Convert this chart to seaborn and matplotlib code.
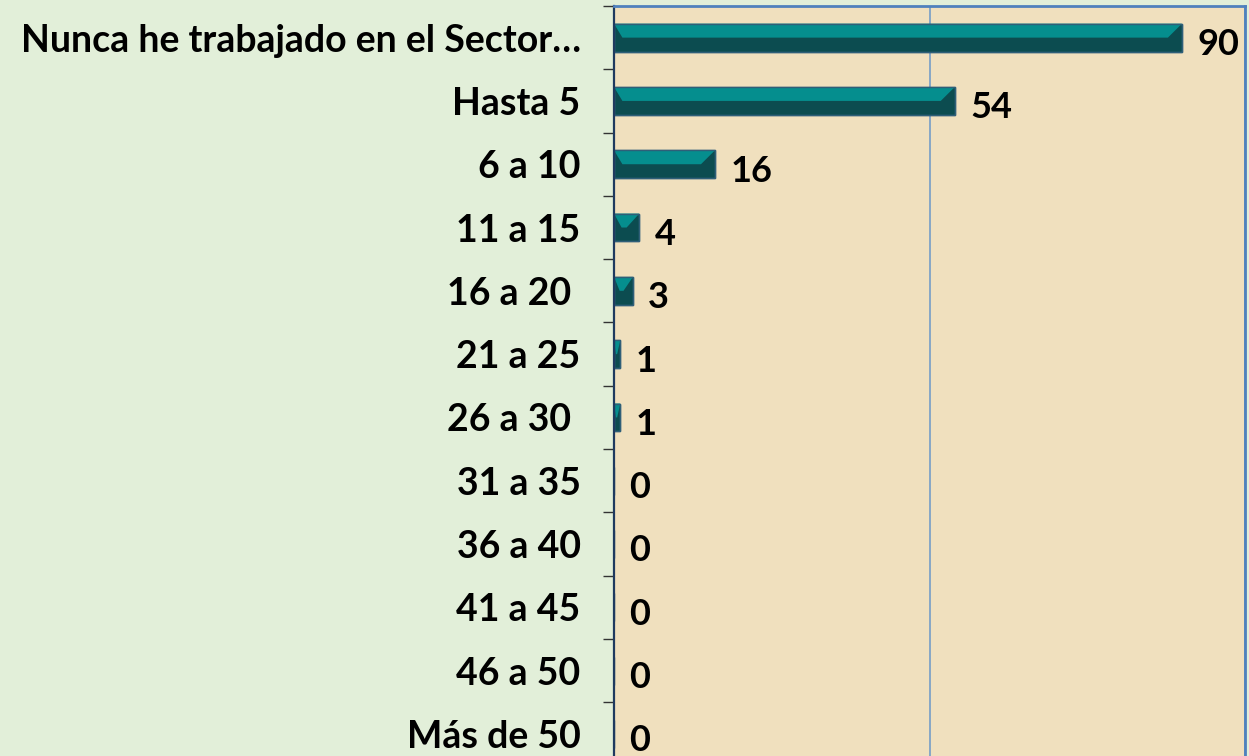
"""Horizontal bar chart: years worked in the sector."""

import matplotlib

matplotlib.use("Agg")
import matplotlib.pyplot as plt
import numpy as np
import pandas as pd
import seaborn as sns
from matplotlib.patches import Polygon

CATEGORIES = [
    "Nunca he trabajado en el Sector…",
    "Hasta 5",
    "6 a 10",
    "11 a 15",
    "16 a 20 ",
    "21 a 25",
    "26 a 30 ",
    "31 a 35",
    "36 a 40",
    "41 a 45",
    "46 a 50",
    "Más de 50",
]
COUNTS = [90, 54, 16, 4, 3, 1, 1, 0, 0, 0, 0, 0]
X_MAX = 100
GRID_TICKS = [0, 50, 100]

FIG_BG = "#E2EFD9"
PLOT_BG = "#F0E0BE"
TEAL_LIGHT = "#058E8E"
TEAL_DARK = "#0C4C50"
EDGE = "#2F5F78"
FRAME_BLUE = "#4F81BD"
GRID_BLUE = "#7FA3C6"
AXIS_NAVY = "#1F3A5F"

sns.set_theme(style="white")
plt.rcParams["font.family"] = ["Lato", "DejaVu Sans"]

frame = pd.DataFrame({"category": CATEGORIES, "count": COUNTS})

fig = plt.figure(figsize=(12.49, 7.56), dpi=100, facecolor=FIG_BG)
axis = fig.add_axes([0.4916, -0.0127, 0.5052, 1.0048])
axis.set_facecolor(PLOT_BG)

sns.barplot(
    data=frame,
    x="count",
    y="category",
    orient="h",
    color=TEAL_DARK,
    saturation=1,
    width=0.44,
    edgecolor=EDGE,
    linewidth=1.0,
    ax=axis,
)
axis.set_xlim(0, X_MAX)
axis.set_xlabel("")
axis.set_ylabel("")

# bevelled look: lighter upper face with slanted ends
fig.canvas.draw()
px_per_unit = axis.get_window_extent().width / X_MAX
bars = list(axis.patches)
for patch in bars:
    x0 = patch.get_x()
    w = patch.get_width()
    y0 = patch.get_y()
    h = patch.get_height()
    if w <= 0:
        continue
    depth = min(14 / px_per_unit, w / 2)
    axis.add_patch(
        Polygon(
            [
                (x0, y0),
                (x0 + w, y0),
                (x0 + w - depth, y0 + h / 2),
                (x0 + min(depth * 0.6, w / 2), y0 + h / 2),
            ],
            closed=True,
            facecolor=TEAL_LIGHT,
            edgecolor="none",
            zorder=patch.get_zorder() + 0.1,
        )
    )
    axis.add_patch(
        Polygon(
            [(x0, y0), (x0 + w, y0), (x0 + w, y0 + h), (x0, y0 + h)],
            closed=True,
            facecolor="none",
            edgecolor=EDGE,
            linewidth=1.0,
            zorder=patch.get_zorder() + 0.2,
        )
    )

for patch, value in zip(bars, COUNTS):
    axis.annotate(
        f"{value}",
        xy=(patch.get_x() + patch.get_width(), patch.get_y() + patch.get_height() / 2),
        xytext=(11, -5),
        textcoords="offset points",
        ha="left",
        va="center",
        fontsize=26,
        fontweight="bold",
        color="black",
        annotation_clip=False,
    )

axis.set_xticks(GRID_TICKS)
axis.set_xticklabels([])
axis.tick_params(axis="x", length=0)
axis.grid(True, axis="x", color=GRID_BLUE, linewidth=1.3)
axis.grid(False, axis="y")
axis.set_axisbelow(True)

axis.set_yticks(np.arange(-0.5, len(CATEGORIES), 1), minor=True)
axis.tick_params(axis="y", which="major", length=0, pad=24, labelsize=27)
axis.tick_params(axis="y", which="minor", length=8, width=1.0, color="#333333", left=True)
for label in axis.get_yticklabels():
    label.set_fontweight("bold")
    label.set_color("black")

for side in ("top", "right"):
    axis.spines[side].set_color(FRAME_BLUE)
    axis.spines[side].set_linewidth(2)
axis.spines["left"].set_color(AXIS_NAVY)
axis.spines["left"].set_linewidth(1.6)
axis.spines["bottom"].set_visible(False)

fig.savefig("out.png", dpi=100, facecolor=FIG_BG)
